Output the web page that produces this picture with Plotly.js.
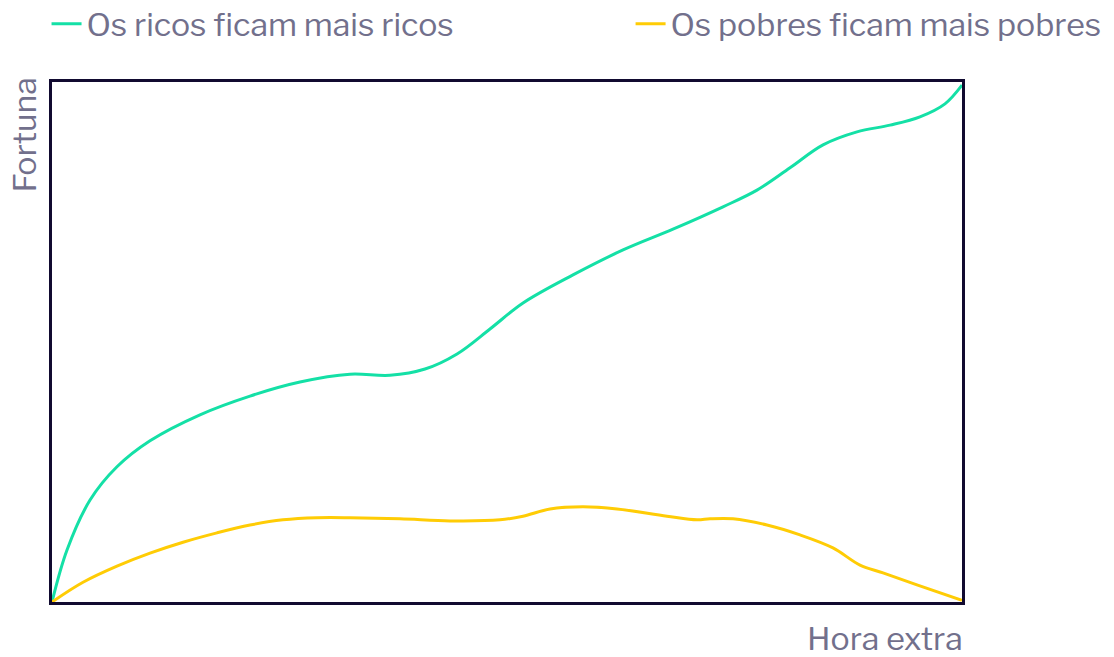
<!DOCTYPE html>
<html>
<head>
<meta charset="utf-8">
<script src="https://cdn.plot.ly/plotly-3.0.1.min.js"></script>
<style>
  html, body { margin: 0; padding: 0; background: #ffffff; }
  #chart { width: 1114px; height: 657px; }
</style>
</head>
<body>
<div id="chart"></div>
<script>
// Horas extras (eixo x) contra fortuna (eixo y), escala relativa 0–100
const seriesNames = ['Os ricos ficam mais ricos', 'Os pobres ficam mais pobres'];

const ricosX = [0, 1.65, 4.18, 7.14, 10.77, 16.26, 21.76, 27.25, 32.75, 37.14, 40.99, 44.51,
  48.13, 51.76, 57.25, 62.75, 68.24, 73.74, 77.47, 81.10, 84.73, 88.46, 92.09, 95.38, 98.13, 100];
const ricosY = [0, 10.0, 19.6, 26.0, 31.0, 36.0, 39.6, 42.3, 43.8, 43.6, 44.8, 47.7,
  52.5, 57.5, 62.9, 67.7, 71.7, 76.0, 79.2, 83.5, 87.9, 90.4, 91.7, 93.3, 95.8, 99.4];

const pobresX = [0, 3.41, 7.14, 10.77, 14.40, 18.13, 21.76, 25.38, 29.12, 32.75, 38.24, 43.74,
  49.23, 51.76, 54.73, 58.35, 62.09, 67.58, 70.88, 72.31, 74.84, 78.57, 82.20, 85.82, 88.79,
  91.32, 95.05, 100];
const pobresY = [0, 3.8, 6.9, 9.4, 11.5, 13.3, 14.8, 15.8, 16.2, 16.2, 16.0, 15.6,
  15.8, 16.5, 17.9, 18.3, 17.9, 16.5, 15.8, 16.0, 16.0, 14.8, 12.9, 10.4, 7.1,
  5.6, 3.3, 0.3];

const axisTitles = { x: 'Hora extra', y: 'Fortuna' };

const textColor = '#72708c';
const fontFamily = '"Libre Franklin", Inter, "Open Sans", sans-serif';
const legendFont = { family: fontFamily, color: textColor, size: 32 };

const traces = [
  {
    x: ricosX, y: ricosY, name: seriesNames[0], type: 'scatter', mode: 'lines',
    line: { color: '#14e0a6', width: 3, shape: 'spline', smoothing: 1 },
    legend: 'legend', hoverinfo: 'skip'
  },
  {
    x: pobresX, y: pobresY, name: seriesNames[1], type: 'scatter', mode: 'lines',
    line: { color: '#ffcc05', width: 3, shape: 'spline', smoothing: 1 },
    legend: 'legend2', hoverinfo: 'skip'
  }
];

const frame = {
  showgrid: false, zeroline: false, showticklabels: false, ticks: '',
  showline: true, mirror: true, linecolor: '#110a30', linewidth: 3,
  fixedrange: true
};

// one single-entry legend per series, laid out side by side above the frame
const legendBase = {
  xanchor: 'left', y: 1.1115, yanchor: 'middle',
  itemwidth: 30, font: legendFont, bgcolor: 'rgba(0,0,0,0)'
};

const layout = {
  width: 1114, height: 657,
  margin: { l: 52, r: 152, t: 82, b: 55, autoexpand: false },
  paper_bgcolor: '#ffffff', plot_bgcolor: '#ffffff',
  font: { family: fontFamily, color: textColor, size: 32 },
  showlegend: true,
  legend: Object.assign({ x: -0.006 }, legendBase),
  legend2: Object.assign({ x: 0.6358 }, legendBase),
  xaxis: Object.assign({ range: [0, 100] }, frame),
  yaxis: Object.assign({ range: [0, 100] }, frame),
  annotations: [
    {
      text: axisTitles.x, xref: 'paper', yref: 'paper', x: 1.003, y: -0.029,
      xanchor: 'right', yanchor: 'top', showarrow: false,
      font: { family: fontFamily, color: textColor, size: 32 }
    },
    {
      text: axisTitles.y, xref: 'paper', yref: 'paper', x: -0.0297, y: 1.0135,
      xanchor: 'center', yanchor: 'top', textangle: -90, showarrow: false,
      font: { family: fontFamily, color: textColor, size: 32 }
    }
  ]
};

Plotly.newPlot('chart', traces, layout, { displayModeBar: false, staticPlot: true });
</script>
</body>
</html>
